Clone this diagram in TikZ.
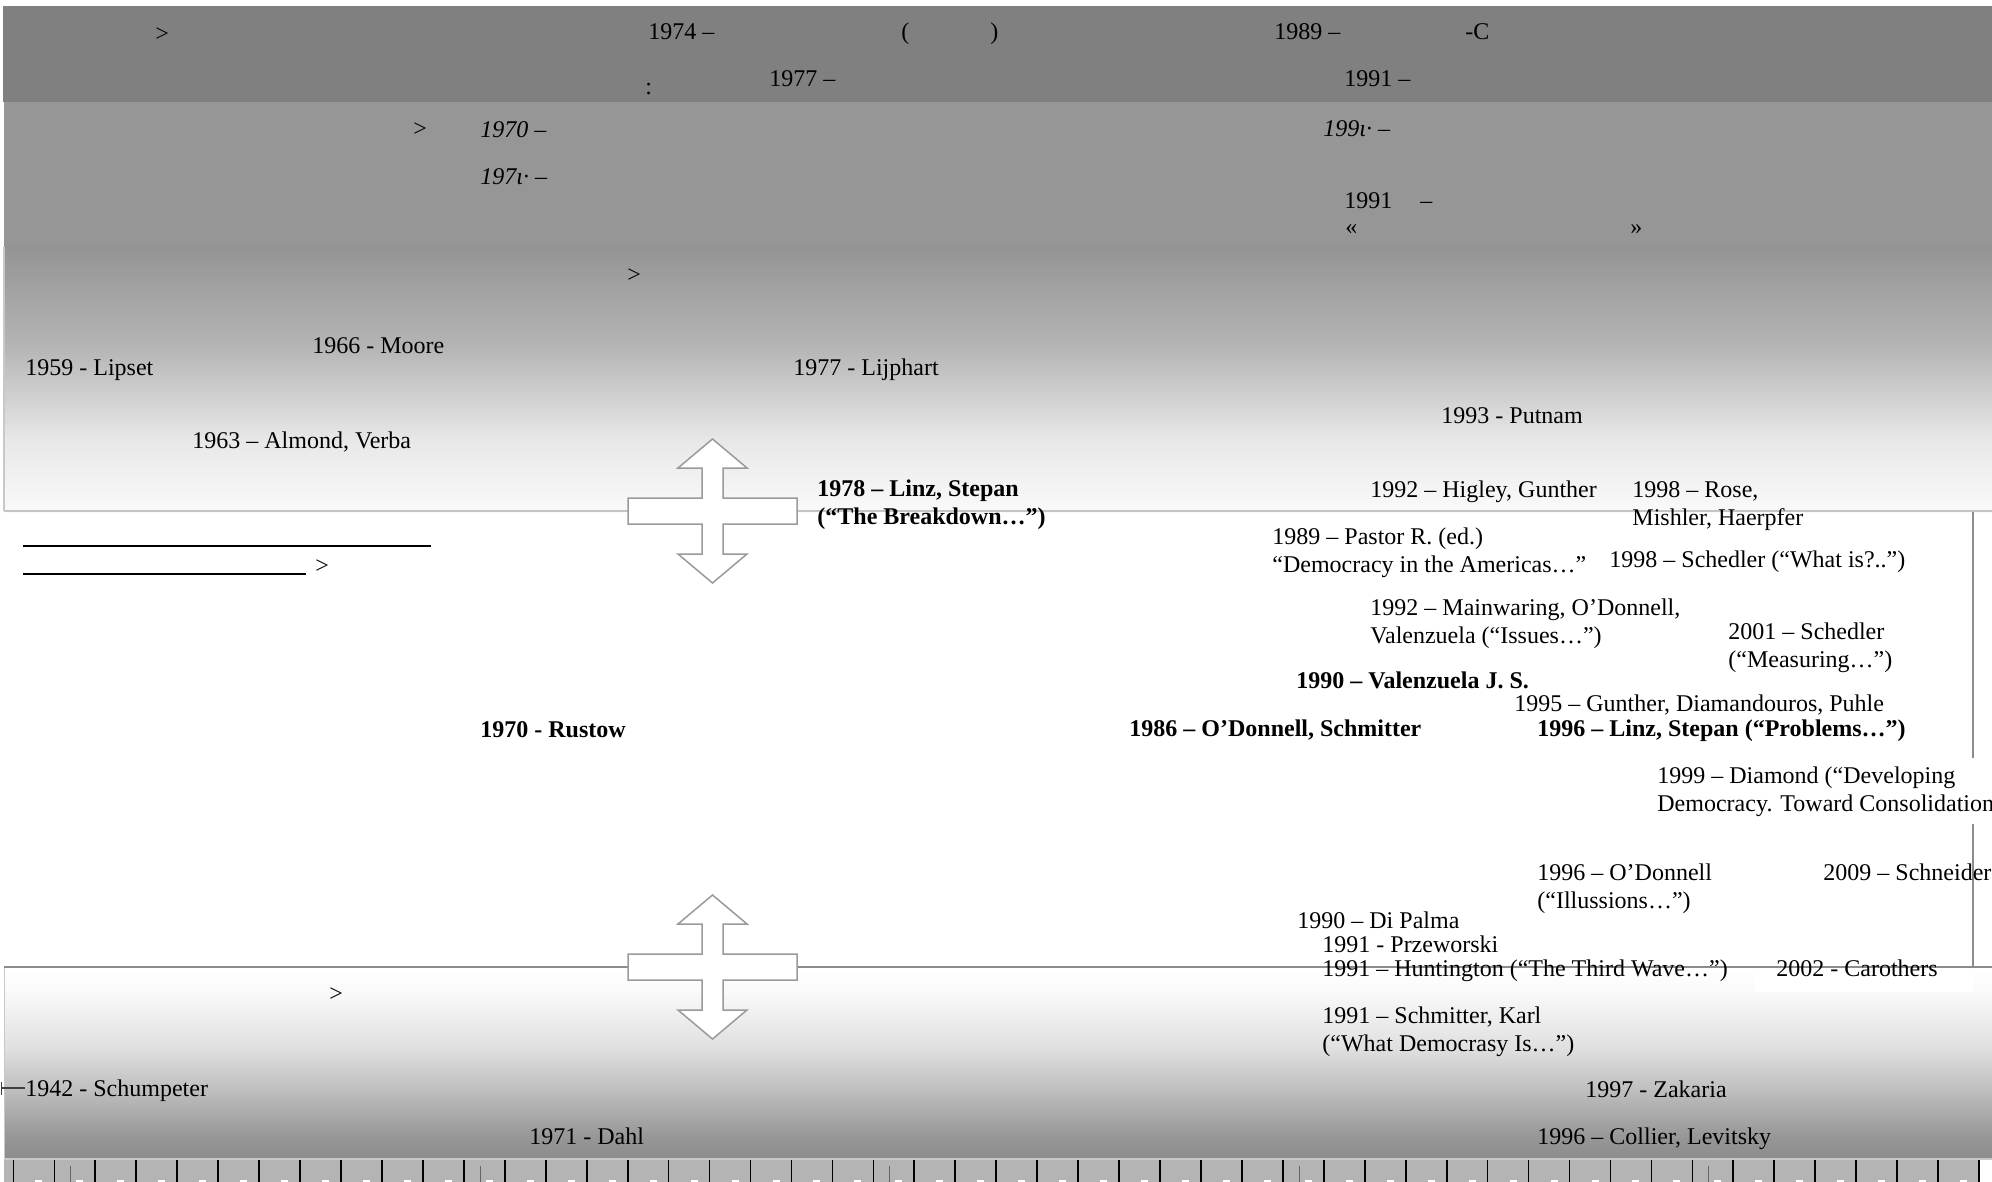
\documentclass[tikz,border=0pt]{standalone}
\usepackage{fontspec}
\setmainfont{Liberation Serif}
\usetikzlibrary{arrows.meta}
\definecolor{bandA}{RGB}{128,128,128}
\definecolor{bandB}{RGB}{150,150,150}
\definecolor{crossgray}{RGB}{154,154,154}
\definecolor{lineLight}{RGB}{196,196,196}
\definecolor{lineDark}{RGB}{140,140,140}
\definecolor{borderLight}{RGB}{200,200,200}
\definecolor{rulerGray}{RGB}{180,180,180}
\definecolor{smalltick}{RGB}{100,100,100}
\definecolor{u148}{RGB}{148,148,148}
\definecolor{u180}{RGB}{180,180,180}
\definecolor{u232}{RGB}{232,232,232}
\definecolor{u250}{RGB}{250,250,250}
\definecolor{l140}{RGB}{140,140,140}
\definecolor{l150}{RGB}{150,150,150}
\definecolor{l192}{RGB}{192,192,192}
\definecolor{l224}{RGB}{224,224,224}
\definecolor{l250}{RGB}{250,250,250}
\definecolor{l255}{RGB}{255,255,255}
\pgfdeclareverticalshading{upgrad}{100bp}{color(0bp)=(u250); color(25bp)=(u250); color(38.5bp)=(u232); color(56.5bp)=(u180); color(75bp)=(u148); color(100bp)=(u148)}
\pgfdeclareverticalshading{lowgrad}{100bp}{color(0bp)=(l140); color(25bp)=(l140); color(30.5bp)=(l150); color(43.5bp)=(l192); color(54bp)=(l224); color(69bp)=(l250); color(75bp)=(l255); color(100bp)=(l255)}
\begin{document}
\begin{tikzpicture}[x=0.5pt,y=-0.5pt,
  txt/.style={anchor=base west, inner sep=0pt, align=left, font=\fontsize{12}{14}\selectfont},
  btxt/.style={anchor=base west, inner sep=0pt, align=left, font=\fontsize{12}{14}\selectfont\bfseries},
  itxt/.style={anchor=base west, inner sep=0pt, align=left, font=\fontsize{12}{14}\selectfont\itshape},
  crossarrow/.style={draw=crossgray, line width=0.75pt, fill=white, line join=miter},
  blankline/.style={draw=black, line width=1.35pt},
  majortick/.style={draw=black, line width=0.85pt},
  minortick/.style={draw=smalltick, line width=0.5pt},
]
\useasboundingbox (0,0) rectangle (1992,1182);
% ---- bands
\fill[bandA] (3,6) rectangle (1992,102);
\fill[bandB] (4,102) rectangle (1992,247);
\shade[shading=upgrad] (4,247) rectangle (1992,512);
\draw[borderLight, line width=0.75pt] (4,247) -- (4,511);
\shade[shading=lowgrad] (4,967) rectangle (1992,1159);
\draw[borderLight, line width=0.75pt] (4.5,967) -- (4.5,1159) -- (1992,1159);
% ---- ruler
\fill[rulerGray] (4,1160) rectangle (1980,1182);
\foreach \k in {0,...,48} {
  \draw[majortick] ({13.4+40.95*\k},1160) -- ({13.4+40.95*\k},1182);
  \fill[white] ({13.4+40.95*\k+22},1180) rectangle ++(7,2);
}
\foreach \m in {0,...,4} {
  \draw[minortick] ({70.5+409.5*\m},1166) -- ({70.5+409.5*\m},1182);
}
% ---- white patch behind Carothers
\fill[white] (1755,944) rectangle (1973,992);
% ---- frame lines
\draw[lineLight, line width=0.75pt] (4,511) -- (1992,511);
\draw[lineDark, line width=0.75pt] (4,967) -- (1992,967);
\draw[lineDark, line width=0.65pt] (1973,512) -- (1973,967);
% ---- cross arrows
\foreach \dy in {0,456} {
  \draw[crossarrow, shift={(0,\dy)}] (712.5,439) -- (747,468) -- (723,468) -- (723,498) -- (797,498) -- (797,524) -- (723,524) -- (723,554) -- (747,554) -- (712.5,583) -- (678,554) -- (702,554) -- (702,524) -- (628,524) -- (628,498) -- (702,498) -- (702,468) -- (678,468) -- cycle;
}
% ---- blank lines
\draw[blankline] (23,546) -- (431,546);
\draw[blankline] (23,574) -- (306,574);
% ---- band 1 texts
\node[txt] (gtA) at (155,42) {>};
\node[txt] (t1974) at (648,40) {1974 –};
\node[txt] (parL) at (901,40) {(};
\node[txt] (parR) at (990,40) {)};
\node[txt] (t1989) at (1274,40) {1989 –};
\node[txt] (tC) at (1465,40) {-C};
\node[txt] (colon) at (645,95) {:};
\node[txt] (t1977) at (769,87) {1977 –};
\node[txt] (t1991a) at (1344,87) {1991 –};
% ---- band 2 texts
\node[txt] (gtB) at (413,137) {>};
\node[itxt] (t1970i) at (480,138) {1970 –};
\node[itxt] (t197x) at (480,185) {197ι· –};
\node[itxt] (t199x) at (1323,137) {199ι· –};
\node[txt] (t1991b) at (1344,209) {1991\hspace{14pt}–};
\node[txt] (laq) at (1345,235) {«};
\node[txt] (raq) at (1630,235) {»};
% ---- band 3 texts
\node[txt] (gtC) at (627,283) {>};
\node[txt] (moore) at (312,353) {1966 - Moore};
\node[txt] (lipset) at (25,375) {1959 - Lipset};
\node[txt] (almond) at (192,448) {1963 – Almond, Verba};
\node[txt] (lijphart) at (793,375) {1977 - Lijphart};
\node[txt] (putnam) at (1441,423) {1993 - Putnam};
\node[txt] (gtD) at (315,573) {>};
% ---- middle texts
\node[btxt] (linz78) at (817,524) {1978 – Linz, Stepan\\(“The Breakdown…”)};
\node[btxt] (rustow) at (480,737) {1970 - Rustow};
\node[btxt] (odonnell86) at (1129,736) {1986 – O’Donnell, Schmitter};
\node[btxt] (valenzuela90) at (1296,688) {1990 – Valenzuela J. S.};
\node[txt] (pastor) at (1272,572) {1989 – Pastor R. (ed.)\\“Democracy in the Americas…”};
\node[txt] (higley) at (1370,497) {1992 – Higley, Gunther};
\node[txt] (rose) at (1632,525) {1998 – Rose,\\Mishler, Haerpfer};
\node[txt] (schedler98) at (1609,567) {1998 – Schedler (“What is?..”)};
\node[txt] (mainwaring) at (1370,643) {1992 – Mainwaring, O’Donnell,\\Valenzuela (“Issues…”)};
\node[txt] (schedler01) at (1728,667) {2001 – Schedler\\(“Measuring…”)};
\node[txt] (gunther) at (1514,711) {1995 – Gunther, Diamandouros, Puhle};
\node[btxt] (linz96) at (1537,736) {1996 – Linz, Stepan (“Problems…”)};
\node[txt, fill=white, inner ysep=4pt] (diamond) at (1657,811) {1999 – Diamond (“Developing\\Democracy. Toward Consolidation};
\node[txt] (odonnell96) at (1537,908) {1996 – O’Donnell\\(“Illussions…”)};
\node[txt] (schneider) at (1823,880) {2009 – Schneider};
\node[txt] (dipalma) at (1297,928) {1990 – Di Palma};
\node[txt] (przeworski) at (1322,952) {1991 - Przeworski};
\node[txt] (huntington) at (1322,976) {1991 – Huntington (“The Third Wave…”)};
\node[txt] (carothers) at (1776,976) {2002 - Carothers};
% ---- lower box texts
\node[txt] (gtE) at (329,1001) {>};
\node[txt] (schmitter) at (1322,1051) {1991 – Schmitter, Karl\\(“What Democrasy Is…”)};
\node[txt] (zakaria) at (1585,1097) {1997 - Zakaria};
\node[txt] (collier) at (1537,1144) {1996 – Collier, Levitsky};
\node[txt] (schumpeter) at (25,1096) {1942 - Schumpeter};
\node[txt] (dahl) at (529,1144) {1971 - Dahl};
\coordinate (sch0) at (1,1088);
\draw[draw=black!75, line width=0.65pt, {Bar[width=6.5pt]}-] (sch0) -- (sch0 -| schumpeter.west);
\end{tikzpicture}
\end{document}
